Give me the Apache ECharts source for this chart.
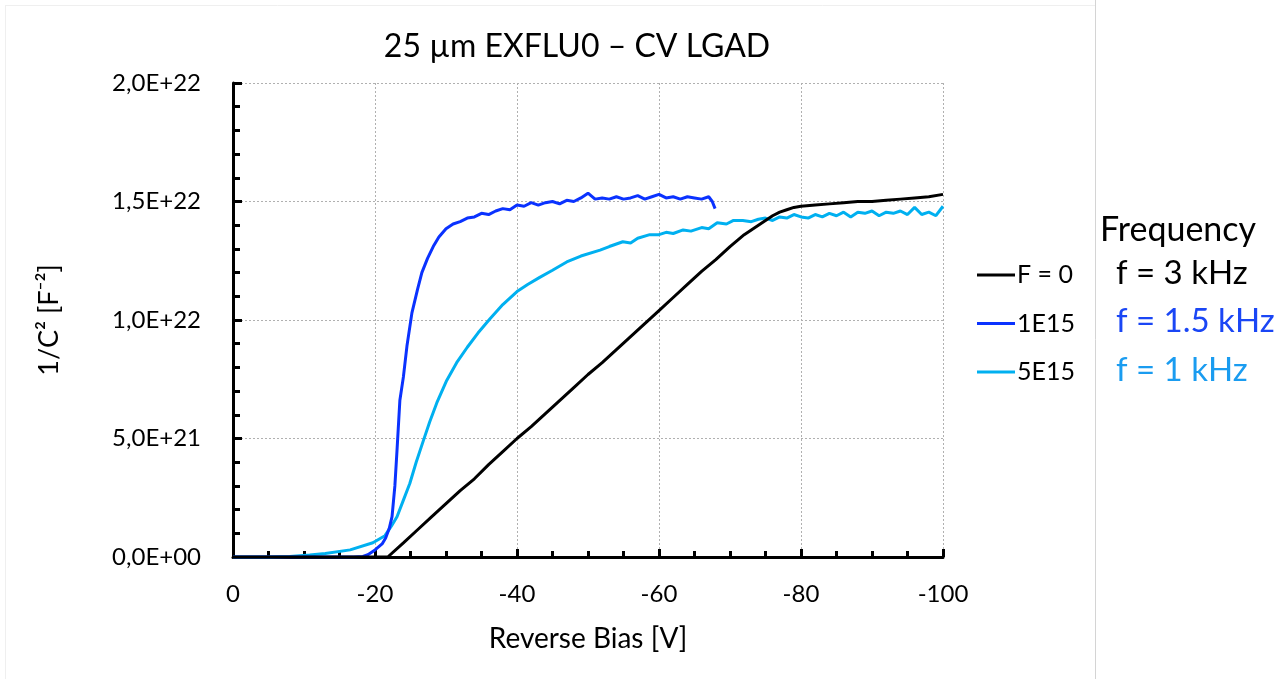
<!DOCTYPE html>
<html>
<head>
<meta charset="utf-8">
<script src="https://cdn.jsdelivr.net/npm/echarts@6/dist/echarts.min.js"></script>
<style>
  html, body { margin: 0; padding: 0; background: #fff; }
  #chart { width: 1276px; height: 679px; }
</style>
</head>
<body>
<div id="chart"></div>
<script>
// values in units of 1E21 F^-2, x in volts
const seriesNames = ['F = 0', '1E15', '5E15'];
const seriesColors = ['#000000', '#0a32ff', '#00b0f0'];
const freqLabels = ['f = 3 kHz', 'f = 1.5 kHz', 'f = 1 kHz'];
const freqColors = ['#000000', '#1a46f5', '#1a9cf0'];

const fluence0 = [
  [0, 0], [-10, 0], [-20, 0], [-21.8, 0], [-24, 0.6], [-26, 1.15], [-28, 1.7], [-30, 2.25],
  [-32, 2.8], [-34, 3.3], [-36, 3.9], [-38, 4.45], [-40, 5.0], [-42, 5.5], [-44, 6.05],
  [-46, 6.6], [-48, 7.15], [-50, 7.7], [-52, 8.2], [-54, 8.75], [-56, 9.3], [-58, 9.85],
  [-60, 10.4], [-62, 10.95], [-64, 11.5], [-66, 12.05], [-68, 12.55], [-70, 13.1],
  [-72, 13.6], [-74, 14.0], [-75, 14.2], [-76, 14.4], [-77, 14.55], [-78, 14.65],
  [-79, 14.75], [-80, 14.8], [-82, 14.85], [-84, 14.9], [-86, 14.95], [-88, 15.0],
  [-90, 15.0], [-92, 15.05], [-94, 15.1], [-96, 15.15], [-98, 15.2], [-100, 15.3]
];

const fluence1e15 = [
  [0, 0], [-10, 0], [-17, 0], [-18.3, 0.02], [-19, 0.1], [-20, 0.3], [-21, 0.55], [-21.5, 0.8],
  [-22, 1.2], [-22.4, 1.7], [-22.8, 3.0], [-23.1, 4.5], [-23.5, 6.6], [-24, 7.6], [-24.5, 8.9],
  [-25.2, 10.3], [-26, 11.3], [-26.6, 12.0], [-27.4, 12.6], [-28.2, 13.1], [-29, 13.5],
  [-30, 13.85], [-31, 14.05], [-32, 14.15], [-33, 14.3], [-34, 14.35], [-35, 14.5],
  [-36, 14.45], [-37, 14.6], [-38, 14.7], [-39, 14.65], [-40, 14.85], [-41, 14.8],
  [-42, 14.95], [-43, 14.85], [-44, 14.95], [-45, 15.0], [-46, 14.9], [-47, 15.05],
  [-48, 15.0], [-49, 15.15], [-50, 15.35], [-51, 15.1], [-52, 15.15], [-53, 15.1],
  [-54, 15.2], [-55, 15.1], [-56, 15.15], [-57, 15.25], [-58, 15.1], [-59, 15.2],
  [-60, 15.3], [-61, 15.15], [-62, 15.2], [-63, 15.1], [-64, 15.2], [-65, 15.15],
  [-66, 15.1], [-67, 15.2], [-67.5, 15.0], [-67.9, 14.7]
];

const fluence5e15 = [
  [0, 0], [-5, 0], [-8, 0.02], [-10.8, 0.08], [-13, 0.15], [-16.5, 0.3], [-19.7, 0.6],
  [-21.4, 0.9], [-22.3, 1.3], [-23.1, 1.7], [-24, 2.4], [-24.9, 3.1], [-25.8, 4.0],
  [-26.8, 4.9], [-27.7, 5.7], [-28.7, 6.5], [-30.1, 7.45], [-31.5, 8.2], [-33, 8.85],
  [-34.5, 9.45], [-36.2, 10.05], [-38, 10.65], [-40, 11.2], [-41.5, 11.5], [-43.2, 11.8],
  [-45, 12.1], [-47, 12.45], [-49, 12.7], [-51.7, 12.95], [-53, 13.1], [-54.9, 13.3],
  [-56, 13.25], [-57, 13.45], [-58.7, 13.6], [-60, 13.6], [-61, 13.7], [-62, 13.65],
  [-63.4, 13.8], [-64.5, 13.75], [-66, 13.9], [-67, 13.85], [-68.2, 14.1], [-69.5, 14.05],
  [-70.5, 14.2], [-71.8, 14.2], [-73, 14.15], [-74, 14.25], [-75, 14.3], [-76, 14.2],
  [-77, 14.35], [-78, 14.3], [-79, 14.45], [-80, 14.35], [-81, 14.3], [-82, 14.45],
  [-83, 14.35], [-84, 14.5], [-85, 14.4], [-86, 14.55], [-87, 14.35], [-88, 14.55],
  [-89, 14.5], [-90, 14.6], [-91, 14.4], [-92, 14.55], [-93, 14.5], [-94, 14.6],
  [-95, 14.45], [-96, 14.75], [-97, 14.45], [-98, 14.55], [-99, 14.4], [-100, 14.8]
];

const allData = [fluence0, fluence1e15, fluence5e15];
const FONT = 'Lato';

function expLabel(v) {
  // v is in units of 1E21 -> "2,0E+22"
  const val = v * 1e21;
  if (val === 0) return '0,0E+00';
  let s = val.toExponential(1);
  let [m, e] = s.split('e');
  let sign = e[0];
  let digits = e.slice(1).padStart(2, '0');
  return m.replace('.', ',') + 'E' + sign + digits;
}

let myChart = echarts.init(document.getElementById('chart'));

let option = {
  backgroundColor: '#fff',
  animation: false,
  title: {
    text: '25 µm EXFLU0 – CV LGAD',
    left: 572,
    top: 26,
    textAlign: 'center',
    textStyle: { fontFamily: FONT, fontSize: 32, fontWeight: 'normal', color: '#000' },
  },
  grid: {
    left: 233,
    right: 333,
    top: 83,
    bottom: 122,
    containLabel: false,
  },
  legend: {
    orient: 'vertical',
    left: 972,
    top: 255,
    icon: 'rect',
    itemWidth: 38,
    itemHeight: 3,
    itemGap: 18.5,
    textStyle: { fontFamily: FONT, fontSize: 25, lineHeight: 30, color: '#000', padding: [0, 0, 0, -3] },
    data: seriesNames,
  },
  xAxis: {
    type: 'value',
    inverse: true,
    min: -100,
    max: 0,
    interval: 20,
    name: 'Reverse Bias [V]',
    nameLocation: 'middle',
    nameGap: 68,
    nameTextStyle: { fontFamily: FONT, fontSize: 28, color: '#000' },
    axisLine: { onZero: false, lineStyle: { color: '#000', width: 3 } },
    axisTick: { inside: true, length: 8, lineStyle: { color: '#000', width: 3 } },
    minorTick: { show: true, splitNumber: 4, length: 6, lineStyle: { color: '#000', width: 3 } },
    axisLabel: { fontFamily: FONT, fontSize: 24, color: '#000', margin: 25 },
    splitLine: { show: true, lineStyle: { color: '#b0b0b0', type: [2, 2], width: 1 } },
  },
  yAxis: {
    type: 'value',
    min: 0,
    max: 20,
    interval: 5,
    name: '1/C² [F⁻²]',
    nameLocation: 'middle',
    nameGap: 170,
    nameRotate: 90,
    nameTextStyle: { fontFamily: FONT, fontSize: 27, color: '#000' },
    axisLine: { show: true, onZero: false, lineStyle: { color: '#000', width: 3 } },
    axisTick: { show: true, inside: true, length: 9, lineStyle: { color: '#000', width: 3 } },
    minorTick: { show: true, splitNumber: 5, length: 7, lineStyle: { color: '#000', width: 3 } },
    axisLabel: { fontFamily: FONT, fontSize: 24, color: '#000', margin: 32, formatter: expLabel },
    splitLine: { show: true, lineStyle: { color: '#b0b0b0', type: [2, 2], width: 1 } },
  },
  series: seriesNames.map((name, i) => ({
    name,
    type: 'line',
    data: allData[i],
    showSymbol: false,
    symbol: 'none',
    color: seriesColors[i],
    lineStyle: { color: seriesColors[i], width: 3 },
    z: 3 - i,
  })),
  graphic: [
    { type: 'line', shape: { x1: 1095.5, y1: 0, x2: 1095.5, y2: 679 }, style: { stroke: '#d4d4d4', lineWidth: 1 } },
    { type: 'line', shape: { x1: 5, y1: 5.5, x2: 1095, y2: 5.5 }, style: { stroke: '#efefef', lineWidth: 1 } },
    { type: 'line', shape: { x1: 5.5, y1: 5, x2: 5.5, y2: 679 }, style: { stroke: '#efefef', lineWidth: 1 } },
    {
      type: 'text', x: 1100, y: 230,
      style: { text: 'Frequency', fill: '#000', font: '34px ' + FONT, verticalAlign: 'middle' },
    },
    ...freqLabels.map((t, i) => ({
      type: 'text', x: 1116, y: 273 + i * 48.5,
      style: { text: t, fill: freqColors[i], font: '33px ' + FONT, verticalAlign: 'middle' },
    })),
  ],
};
myChart.setOption(option);
</script>
</body>
</html>
